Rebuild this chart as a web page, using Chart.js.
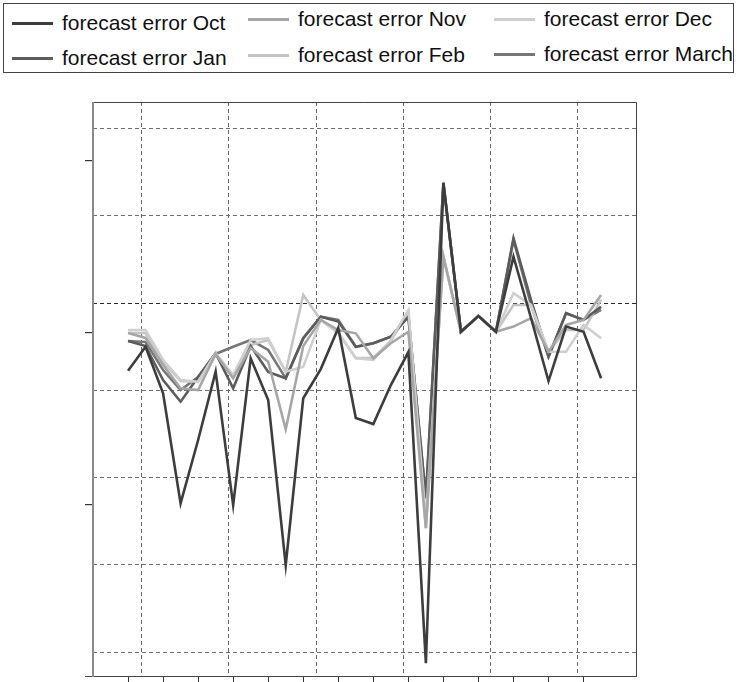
<!DOCTYPE html>
<html>
<head>
<meta charset="utf-8">
<script src="https://cdn.jsdelivr.net/npm/chart.js@4/dist/chart.umd.min.js"></script>
<style>
  html, body { margin: 0; padding: 0; background: #fff; }
  #wrap { position: relative; width: 737px; height: 682px; overflow: hidden; }
  #chart { position: absolute; left: 0; top: 0; }
  #legend {
    position: absolute; left: 3px; top: 3px; width: 731px; height: 70px;
    border: 1.5px solid #444; box-sizing: border-box; background: #fff;
    font-family: "Liberation Sans", Arial, sans-serif; font-size: 21px; color: #111;
  }
  .item { position: absolute; display: flex; align-items: center; white-space: nowrap; height: 24px; }
  .swatch { width: 41px; height: 3px; margin-right: 9px; }
</style>
</head>
<body>
<div id="wrap">
  <canvas id="chart" width="737" height="682"></canvas>
  <div id="legend"></div>
</div>
<script>
// period index along the horizontal axis
const periods = [0, 1, 2, 3, 4, 5, 6, 7, 8, 9, 10, 11, 12, 13, 14, 15, 16, 17, 18, 19, 20, 21, 22, 23, 24, 25, 26, 27];

// forecast errors by forecast month
const errOct   = [-2.24, -0.84, -3.55, -9.96, -6.27, -2.29, -10.06, -1.51, -3.94, -13.55, -3.84, -2.14, 0.25, -4.99, -5.34, -3.07, -1.15, -19.26, 8.70, 0.03, 0.95, 0.03, 4.40, 0.83, -2.84, 0.33, 0.03, -2.68];
const errNov   = [-0.04, -0.33, -1.90, -3.26, -3.36, -1.26, -2.68, -0.91, -1.71, -5.65, -0.80, 0.72, 0.13, -0.06, -1.51, -0.64, 0.03, -11.40, 4.40, 0.03, 0.95, 0.03, 0.33, 0.82, -1.13, 0.43, 0.72, 2.17];
const errDec   = [0.13, 0.13, -1.61, -2.78, -2.88, -1.21, -2.49, -0.45, -0.35, -2.29, -2.00, 0.72, -0.04, -1.51, -1.61, -0.45, 1.30, -10.93, 4.40, 0.03, 0.95, 0.03, 2.27, 1.59, -1.13, -1.13, 0.43, -0.35];
const errJan   = [-0.51, -0.80, -2.78, -4.04, -2.60, -1.21, -3.26, -0.80, -2.31, -2.68, -0.35, 0.91, 0.62, -0.84, -0.64, -0.26, 0.91, -9.65, 8.64, 0.03, 0.95, 0.03, 5.47, 1.88, -1.42, 1.11, 0.72, 1.49];
const errFeb   = [-0.04, -0.04, -1.73, -2.84, -2.89, -1.32, -2.60, -0.74, -0.45, -2.31, 2.17, 0.72, -0.04, -1.50, -1.50, -0.51, 1.18, -11.40, 4.40, 0.03, 0.95, 0.03, 1.59, 1.59, -1.13, 0.13, 0.13, 1.88];
const errMarch = [-0.51, -0.56, -2.20, -3.36, -2.60, -1.26, -0.84, -0.45, -1.03, -2.68, -0.35, 0.91, 0.72, -0.84, -0.64, -0.26, 0.91, -9.65, 8.70, 0.03, 0.95, 0.03, 5.38, 1.59, -1.42, 1.11, 0.72, 1.30];

// axis ticks and grid positions
const xTickValues = [0, 2, 4, 6, 8, 10, 12, 14, 16, 18, 20, 22, 24, 26];
const yTickValues = [-10, 0, 10];
const xGridValues = [0.77, 5.75, 10.74, 15.71, 20.71, 25.68];
const yGridValues = [11.86, 6.78, 1.70, -3.38, -8.46, -13.54, -18.62];

const X_MIN = -2.0, X_MAX = 29.05;
const Y_MIN = -20.06, Y_MAX = 13.40;

const seriesList = [
  { label: 'forecast error Oct',   data: errOct,   color: '#3d3d3d' },
  { label: 'forecast error Nov',   data: errNov,   color: '#a6a6a6' },
  { label: 'forecast error Dec',   data: errDec,   color: '#cfcfcf' },
  { label: 'forecast error Jan',   data: errJan,   color: '#5c5c5c' },
  { label: 'forecast error Feb',   data: errFeb,   color: '#c4c4c4' },
  { label: 'forecast error March', data: errMarch, color: '#767676' }
];

// legend laid out as a 3 x 2 grid (left, top of each entry)
const legendSlots = [[8, 7], [244, 3], [490, 3], [8, 42], [244, 39], [490, 38]];
const legendEl = document.getElementById('legend');
seriesList.forEach((s, i) => {
  const item = document.createElement('div');
  item.className = 'item';
  item.style.left = legendSlots[i][0] + 'px';
  item.style.top = legendSlots[i][1] + 'px';
  const sw = document.createElement('span');
  sw.className = 'swatch';
  sw.style.background = s.color;
  const tx = document.createElement('span');
  tx.textContent = s.label;
  item.appendChild(sw);
  item.appendChild(tx);
  legendEl.appendChild(item);
});

// plot frame: grey left spine, dark thin lines elsewhere
const framePlugin = {
  id: 'frame',
  beforeDatasetsDraw(chart) {
    const { ctx, chartArea: a } = chart;
    ctx.save();
    ctx.strokeStyle = '#444';
    ctx.lineWidth = 1;
    ctx.beginPath();
    ctx.moveTo(a.left, a.top + 0.5);
    ctx.lineTo(a.right - 0.5, a.top + 0.5);
    ctx.lineTo(a.right - 0.5, a.bottom - 0.5);
    ctx.moveTo(a.left - 8, a.bottom - 0.5);
    ctx.lineTo(a.right, a.bottom - 0.5);
    ctx.stroke();
    ctx.strokeStyle = '#8a8a8a';
    ctx.lineWidth = 2;
    ctx.beginPath();
    ctx.moveTo(a.left, a.top);
    ctx.lineTo(a.left, a.bottom);
    ctx.stroke();
    ctx.restore();
  }
};

new Chart(document.getElementById('chart'), {
  type: 'line',
  data: {
    datasets: seriesList.map(s => ({
      label: s.label,
      data: periods.map((p, i) => ({ x: p, y: s.data[i] })),
      borderColor: s.color,
      backgroundColor: s.color,
      borderWidth: 2.6,
      pointRadius: 0,
      tension: 0,
      fill: false
    }))
  },
  options: {
    responsive: false,
    animation: false,
    devicePixelRatio: 1,
    layout: { padding: { left: 0, top: 102, right: 100, bottom: 0 } },
    plugins: { legend: { display: false }, tooltip: { enabled: false } },
    scales: {
      x: {
        type: 'linear', position: 'bottom', min: X_MIN, max: X_MAX,
        afterBuildTicks: s => { s.ticks = xTickValues.map(v => ({ value: v })); },
        afterFit: s => { s.height = 5; },
        ticks: { display: false },
        grid: { drawOnChartArea: false, drawTicks: true, tickLength: 5, color: '#333', lineWidth: 1 },
        border: { display: false }
      },
      xg: {
        type: 'linear', position: 'bottom', min: X_MIN, max: X_MAX,
        afterBuildTicks: s => { s.ticks = xGridValues.map(v => ({ value: v })); },
        afterFit: s => { s.height = 0; },
        ticks: { display: false },
        grid: { drawTicks: false, color: '#666', lineWidth: 1 },
        border: { display: false, dash: [4, 3] }
      },
      y: {
        type: 'linear', position: 'left', min: Y_MIN, max: Y_MAX,
        afterBuildTicks: s => { s.ticks = yTickValues.map(v => ({ value: v })); },
        afterFit: s => { s.width = 93; },
        ticks: { display: false },
        grid: { drawOnChartArea: false, drawTicks: true, tickLength: 8, color: '#333', lineWidth: 1.2 },
        border: { display: false }
      },
      yg: {
        type: 'linear', position: 'left', min: Y_MIN, max: Y_MAX,
        afterBuildTicks: s => { s.ticks = yGridValues.map(v => ({ value: v })); },
        afterFit: s => { s.width = 0; },
        ticks: { display: false },
        grid: {
          drawTicks: false, lineWidth: 1,
          color: c => (c.tick && c.tick.value === 1.70) ? '#2a2a2a' : '#6e6e6e'
        },
        border: { display: false, dash: [4, 3] }
      }
    }
  },
  plugins: [framePlugin]
});
</script>
</body>
</html>
